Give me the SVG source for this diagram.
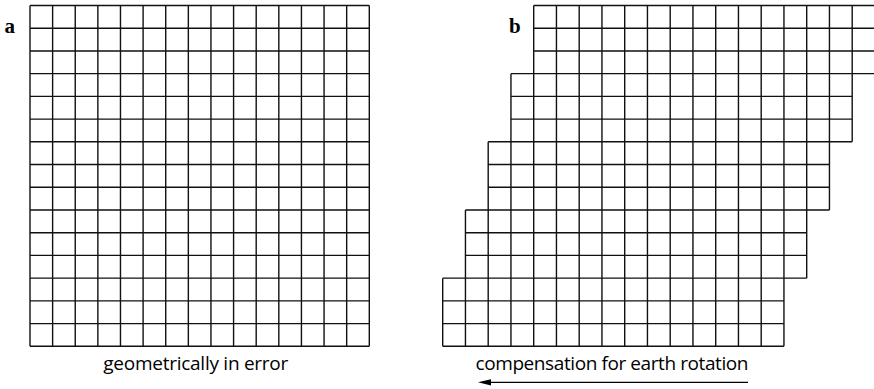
<svg xmlns="http://www.w3.org/2000/svg" width="874" height="389" viewBox="0 0 874 389">
  <style>
    .grid { fill: none; stroke: #111; stroke-width: 1.4; }
    .panel { font-family: "Liberation Serif", "Times New Roman", serif; font-weight: bold; font-size: 21px; fill: #000; }
    .caption { font-family: "Open Sans", "Noto Sans", sans-serif; font-size: 19px; fill: #000; text-anchor: middle; }
    .arrow { fill: none; stroke: #000; stroke-width: 1.3; }
  </style>
  <defs>
    <marker id="head" markerUnits="userSpaceOnUse" markerWidth="14" markerHeight="8" refX="9" refY="0" orient="auto" viewBox="0 -4 14 8" overflow="visible">
      <path d="M0,-3.1 L13,0 L0,3.1 Z" fill="#000"/>
    </marker>
  </defs>
  <rect width="874" height="389" fill="#fff"/>

  <g id="grid-a">
    <path class="grid" d="
      M30 5.5 H369.3 M30 28.22 H369.3 M30 50.94 H369.3 M30 73.66 H369.3 M30 96.38 H369.3
      M30 119.1 H369.3 M30 141.82 H369.3 M30 164.54 H369.3 M30 187.26 H369.3 M30 209.98 H369.3
      M30 232.7 H369.3 M30 255.42 H369.3 M30 278.14 H369.3 M30 300.86 H369.3 M30 323.58 H369.3 M30 346.3 H369.3
      M30 5.5 V346.3 M52.62 5.5 V346.3 M75.24 5.5 V346.3 M97.86 5.5 V346.3 M120.48 5.5 V346.3
      M143.1 5.5 V346.3 M165.72 5.5 V346.3 M188.34 5.5 V346.3 M210.96 5.5 V346.3 M233.58 5.5 V346.3
      M256.2 5.5 V346.3 M278.82 5.5 V346.3 M301.44 5.5 V346.3 M324.06 5.5 V346.3 M346.68 5.5 V346.3 M369.3 5.5 V346.3"/>
  </g>

  <g id="grid-b">
    <path class="grid" d="
      M533.7 5.5 H874.95 M533.7 28.22 H874.95 M533.7 50.94 H874.95
      M510.95 73.66 H874.95
      M510.95 96.38 H852.2 M510.95 119.1 H852.2
      M488.2 141.82 H852.2
      M488.2 164.54 H829.45 M488.2 187.26 H829.45
      M465.45 209.98 H829.45
      M465.45 232.7 H806.7 M465.45 255.42 H806.7
      M442.7 278.14 H806.7
      M442.7 300.86 H783.95 M442.7 323.58 H783.95 M442.7 346.3 H783.95
      M442.7 278.14 V346.3
      M465.45 209.98 V346.3
      M488.2 141.82 V346.3
      M510.95 73.66 V346.3
      M533.7 5.5 V346.3 M556.45 5.5 V346.3 M579.2 5.5 V346.3 M601.95 5.5 V346.3
      M624.7 5.5 V346.3 M647.45 5.5 V346.3 M670.2 5.5 V346.3 M692.95 5.5 V346.3
      M715.7 5.5 V346.3 M738.45 5.5 V346.3 M761.2 5.5 V346.3 M783.95 5.5 V346.3
      M806.7 5.5 V278.14
      M829.45 5.5 V209.98
      M852.2 5.5 V141.82
      M874.95 5.5 V73.66"/>
  </g>

  <g id="labels">
    <text class="panel" x="4.5" y="33.3">a</text>
    <text class="panel" x="509" y="33.3">b</text>
    <text id="caption-a" class="caption" x="195.8" y="370" textLength="185">geometrically in error</text>
    <text id="caption-b" class="caption" x="612" y="370" textLength="273">compensation for earth rotation</text>
  </g>

  <g id="connectors">
    <line class="arrow" x1="748" y1="382.3" x2="482" y2="382.3" marker-end="url(#head)"/>
  </g>
</svg>
